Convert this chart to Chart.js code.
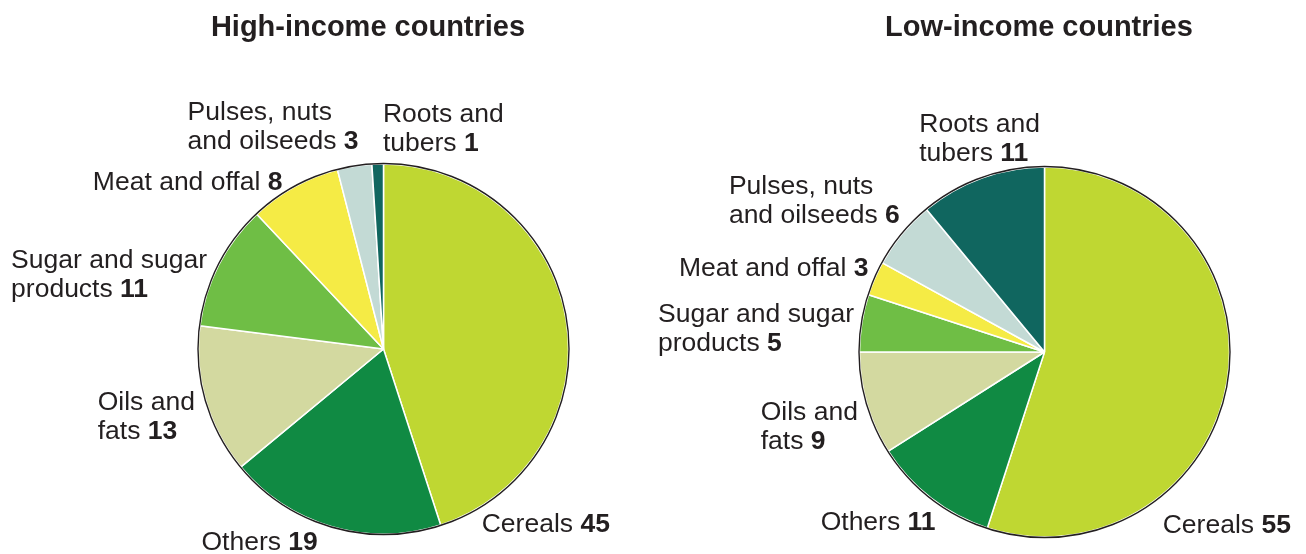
<!DOCTYPE html>
<html>
<head>
<meta charset="utf-8">
<script src="https://cdn.jsdelivr.net/npm/chart.js@4.4.0/dist/chart.umd.min.js"></script>
<style>
  html, body { margin: 0; padding: 0; background: #fff; }
  #wrap { position: relative; width: 1306px; height: 554px; }
  .box { position: absolute; top: 0; width: 653px; height: 554px; }
</style>
</head>
<body>
<div id="wrap">
  <div class="box" style="left:0"><canvas id="high"></canvas></div>
  <div class="box" style="left:653px"><canvas id="low"></canvas></div>
</div>
<script>
const categories = ["Cereals", "Others", "Oils and fats", "Sugar and sugar products",
  "Meat and offal", "Pulses, nuts and oilseeds", "Roots and tubers"];
// how each category name is broken over lines in the labels
const labelLines = [["Cereals"], ["Others"], ["Oils and", "fats"], ["Sugar and sugar", "products"],
  ["Meat and offal"], ["Pulses, nuts", "and oilseeds"], ["Roots and", "tubers"]];
const highIncome = [45, 19, 13, 11, 8, 3, 1];
const lowIncome = [55, 11, 9, 5, 3, 6, 11];
const colors = ["#bfd732", "#108a43", "#d3d9a0", "#6fbe45", "#f5eb45", "#c3dad5", "#10665f"];

// label anchors (left x, first baseline) in units of the pie radius from its centre
const highLabelPos = [[0.531, 0.987], [-0.984, 1.084], [-1.545, 0.329], [-2.013, -0.437],
  [-1.571, -0.857], [-1.059, -1.240], [-0.003, -1.229]];
const lowLabelPos = [[0.639, 0.978], [-1.210, 0.962], [-1.534, 0.369], [-2.089, -0.164],
  [-1.976, -0.412], [-1.706, -0.854], [-0.677, -1.189]];

const FONT = "'Liberation Sans', Arial, Helvetica, sans-serif";
const textColor = "#231f20";

const pieLabels = {
  id: "pieLabels",
  afterDraw(chart, args, opts) {
    const ctx = chart.ctx;
    const arc = chart.getDatasetMeta(0).data[0];
    const { x, y, outerRadius } = arc.getProps(["x", "y", "outerRadius"], true);
    const values = chart.data.datasets[0].data;

    ctx.save();
    // thin dark outline round the pie
    ctx.beginPath();
    ctx.arc(x, y, outerRadius + 0.5, 0, Math.PI * 2);
    ctx.strokeStyle = textColor;
    ctx.lineWidth = 1.4;
    ctx.stroke();

    // title
    ctx.fillStyle = textColor;
    ctx.textBaseline = "alphabetic";
    ctx.textAlign = "center";
    ctx.font = "bold 29px " + FONT;
    ctx.fillText(opts.title, x + opts.titleDx, 36);

    // slice labels
    ctx.textAlign = "left";
    labelLines.forEach((lines, i) => {
      const lx = x + opts.pos[i][0] * outerRadius;
      let ly = y + opts.pos[i][1] * outerRadius;
      lines.forEach((line, j) => {
        ctx.font = "26.5px " + FONT;
        ctx.fillText(line, lx, ly);
        if (j === lines.length - 1) {
          const w = ctx.measureText(line + " ").width;
          ctx.font = "bold 26.5px " + FONT;
          ctx.fillText(String(values[i]), lx + w, ly);
        }
        ly += 29;
      });
    });
    ctx.restore();
  }
};

function makePie(id, values, title, titleDx, pos, padding) {
  return new Chart(document.getElementById(id), {
    type: "pie",
    data: {
      labels: categories,
      datasets: [{
        data: values,
        backgroundColor: colors,
        borderColor: "#ffffff",
        borderWidth: 1.5,
      }],
    },
    options: {
      responsive: true,
      maintainAspectRatio: false,
      animation: false,
      radius: 185,
      layout: { padding: padding },
      plugins: {
        legend: { display: false },
        tooltip: { enabled: false },
        title: { display: false },
        pieLabels: { title: title, titleDx: titleDx, pos: pos },
      },
    },
    plugins: [pieLabels],
  });
}

makePie("high", highIncome, "High-income countries", -15.5, highLabelPos,
  { left: 190, right: 76, top: 150, bottom: 6 });
makePie("low", lowIncome, "Low-income countries", -5.5, lowLabelPos,
  { left: 200, right: 70, top: 153, bottom: 3 });
</script>
</body>
</html>
